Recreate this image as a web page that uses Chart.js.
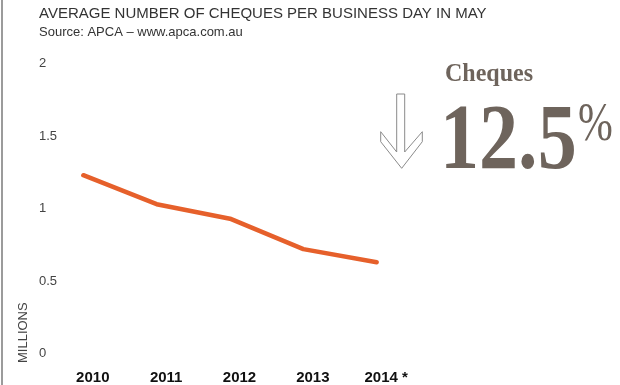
<!DOCTYPE html>
<html>
<head>
<meta charset="utf-8">
<script src="https://cdn.jsdelivr.net/npm/chart.js@4/dist/chart.umd.min.js"></script>
<style>
  html, body { margin: 0; padding: 0; background: #fff; }
  #wrap { position: relative; width: 620px; height: 385px; }
</style>
</head>
<body>
<div id="wrap"><canvas id="chequesChart" width="620" height="385"></canvas></div>
<script>
// Average cheques per business day in May (millions)
const years = ['2010', '2011', '2012', '2013', '2014 *'];
const chequeMillions = [1.23, 1.03, 0.93, 0.72, 0.63];
const yTicks = [0, 0.5, 1, 1.5, 2];

const titleText = 'AVERAGE NUMBER OF CHEQUES PER BUSINESS DAY IN MAY';
const sourceText = 'Source: APCA \u2013 www.apca.com.au';
const calloutLabel = 'Cheques';
const calloutValue = '12.5';

const brown = '#6e645c';

// Side callout, axis unit label and the page rule on the left
const extrasPlugin = {
  id: 'extras',
  afterDraw(chart) {
    const ctx = chart.ctx;
    ctx.save();

    // left rule
    ctx.strokeStyle = '#7a7a7a';
    ctx.lineWidth = 1.5;
    ctx.beginPath();
    ctx.moveTo(2, 0);
    ctx.lineTo(2, chart.height);
    ctx.stroke();

    // unit label, rotated
    ctx.save();
    ctx.translate(27, 363);
    ctx.rotate(-Math.PI / 2);
    ctx.fillStyle = '#444';
    ctx.font = '13px "Liberation Sans", Arial, sans-serif';
    ctx.textAlign = 'left';
    ctx.textBaseline = 'alphabetic';
    ctx.fillText('MILLIONS', 0, 0);
    ctx.restore();

    // outline arrow pointing down
    ctx.beginPath();
    ctx.moveTo(396.7, 94);
    ctx.lineTo(404.7, 94);
    ctx.lineTo(404.7, 152);
    ctx.lineTo(422.3, 131.7);
    ctx.lineTo(422.3, 141.7);
    ctx.lineTo(401.7, 168.3);
    ctx.lineTo(380.7, 141.7);
    ctx.lineTo(380.7, 131.7);
    ctx.lineTo(396.7, 152);
    ctx.closePath();
    ctx.fillStyle = '#fff';
    ctx.fill();
    ctx.strokeStyle = '#8a8a8a';
    ctx.lineWidth = 1;
    ctx.stroke();

    ctx.fillStyle = brown;
    ctx.textBaseline = 'alphabetic';
    ctx.textAlign = 'left';

    ctx.font = 'bold 25px "Liberation Serif", "Times New Roman", serif';
    ctx.save();
    ctx.translate(445, 81);
    ctx.scale(0.96, 1);
    ctx.fillText(calloutLabel, 0, 0);
    ctx.restore();

    ctx.font = 'bold 93px "Liberation Serif", "Times New Roman", serif';
    ctx.save();
    ctx.translate(440, 168);
    ctx.scale(0.84, 1);
    ctx.fillText(calloutValue, 0, 0);
    ctx.restore();

    ctx.font = '55px "Liberation Serif", "Times New Roman", serif';
    ctx.save();
    ctx.translate(578, 140);
    ctx.scale(0.76, 1);
    ctx.fillText('%', 0, 0);
    ctx.restore();

    ctx.restore();
  }
};

new Chart(document.getElementById('chequesChart'), {
  type: 'line',
  data: {
    labels: years,
    datasets: [{
      data: chequeMillions,
      borderColor: '#e6602b',
      borderWidth: 4.5,
      borderCapStyle: 'round',
      borderJoinStyle: 'round',
      pointRadius: 0,
      tension: 0,
      fill: false
    }]
  },
  options: {
    responsive: false,
    animation: false,
    layout: { padding: { left: 39, right: 0, top: 0, bottom: 0 } },
    plugins: {
      legend: { display: false },
      tooltip: { enabled: false },
      title: {
        display: true,
        text: titleText,
        align: 'start',
        color: '#333',
        font: { family: '"Liberation Sans", Arial, sans-serif', size: 15, weight: 'normal', lineHeight: 1.2 },
        padding: { top: 4.5, bottom: 2.8 }
      },
      subtitle: {
        display: true,
        text: sourceText,
        align: 'start',
        color: '#333',
        font: { family: '"Liberation Sans", Arial, sans-serif', size: 13, lineHeight: 1.1 },
        padding: { top: 0, bottom: 24 }
      }
    },
    scales: {
      x: {
        offset: false,
        grid: { display: false, drawTicks: false },
        border: { display: false },
        ticks: {
          color: '#111',
          padding: 15,
          labelOffset: 9.5,
          maxRotation: 0,
          font: { family: '"Liberation Sans", Arial, sans-serif', size: 15, weight: 'bold' }
        },
        afterFit(scale) { scale.height = 31.5; }
      },
      y: {
        min: 0,
        max: 2,
        grid: { display: false, drawTicks: false },
        border: { display: false },
        afterBuildTicks(scale) { scale.ticks = yTicks.map(v => ({ value: v })); },
        ticks: {
          color: '#444',
          crossAlign: 'far',
          callback: v => String(v),
          font: { family: '"Liberation Sans", Arial, sans-serif', size: 13 }
        },
        afterFit(scale) { scale.width = 44.3; }
      },
      // empty right-hand axis keeps room for the callout
      side: {
        axis: 'y',
        position: 'right',
        min: 0,
        max: 2,
        grid: { display: false, drawTicks: false },
        border: { display: false },
        ticks: { display: false },
        afterFit(scale) { scale.width = 243.3; }
      }
    }
  },
  plugins: [extrasPlugin]
});
</script>
</body>
</html>
